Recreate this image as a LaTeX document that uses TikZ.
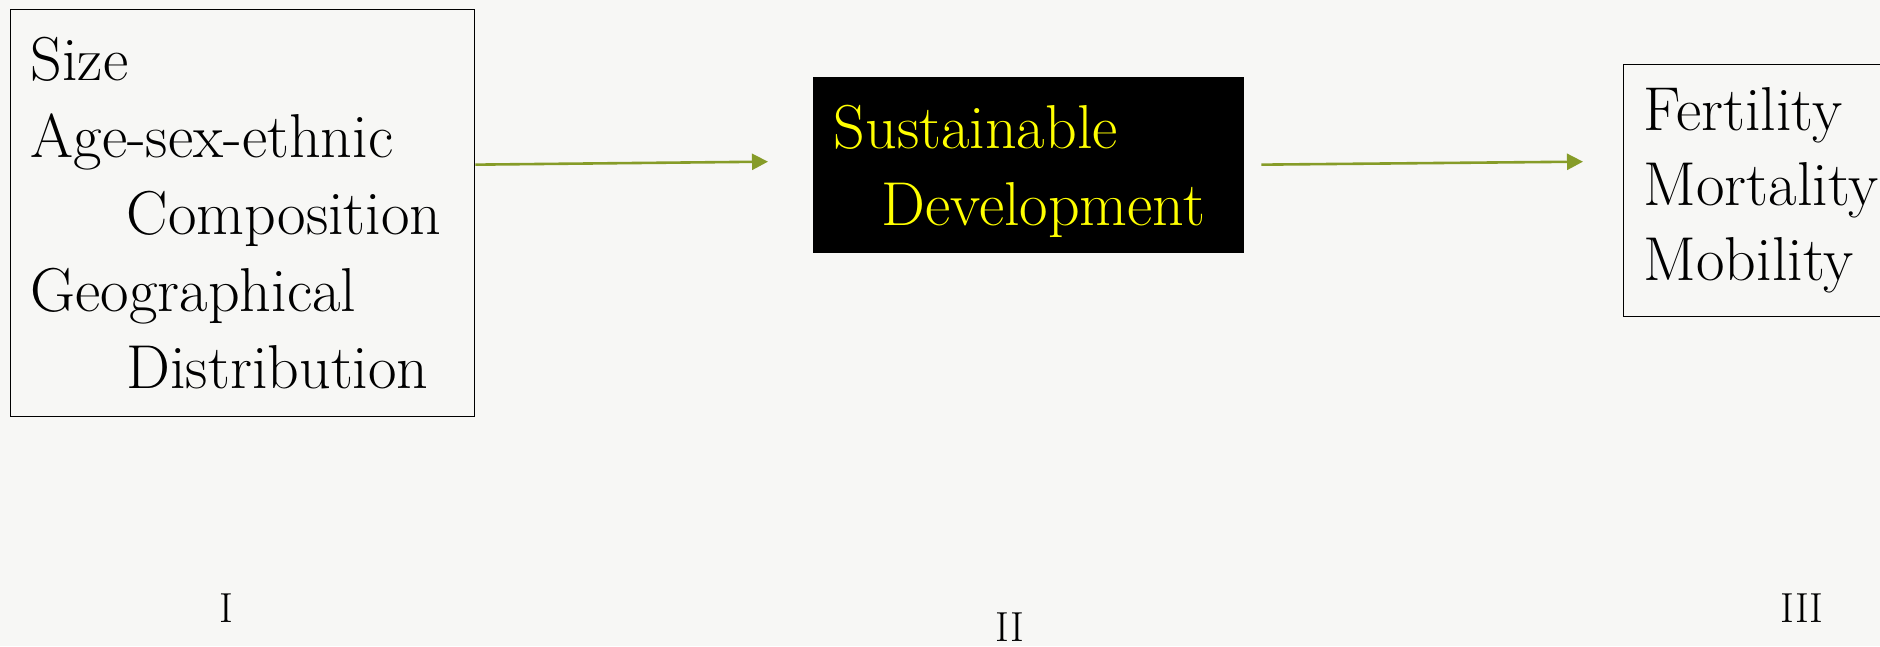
\documentclass[tikz,border=0pt]{standalone}
\usepackage{fontspec}
\usetikzlibrary{arrows.meta}
\definecolor{paper}{RGB}{247,247,245}
\definecolor{arrowgreen}{RGB}{134,156,40}
\definecolor{sdyellow}{RGB}{255,255,0}
\begin{document}
\begin{tikzpicture}[x=1pt,y=-1pt,
	box/.style={draw=black,line width=1.3pt,align=left,inner xsep=20pt,inner ysep=0pt,anchor=north west,font=\fontsize{62}{77}\selectfont},
	flow/.style={draw=arrowgreen,line width=2.6pt,-{Triangle[length=16pt,width=16pt]}},
	roman/.style={font=\fontsize{42}{50}\selectfont}]
	\useasboundingbox (0,0) rectangle (1880,646);
	\fill[paper] (0,0) rectangle (1880,646);
	\node [box,text width=424pt,minimum height=407pt] (pop) at (10,9)
		{Size\\Age-sex-ethnic\\\hspace*{96pt}Composition\\Geographical\\\hspace*{96pt}Distribution};
	\node [box,draw=none,fill=black,text=sdyellow,inner xsep=21pt,text width=389pt,minimum height=176pt] (sd) at (812,76)
		{\rule{0pt}{56pt}Sustainable\\\hspace*{48pt}Development};
	\node [box,text width=237pt,minimum height=252pt,font=\fontsize{62}{75}\selectfont] (proc) at (1623,64)
		{Fertility\\Mortality\\Mobility};
	\draw [flow] ([yshift=48.5pt]pop.east) -- ([xshift=-44pt,yshift=3pt]sd.west);
	\draw [flow] ([xshift=17pt]sd.east) -- ([xshift=-40pt,yshift=29pt]proc.west);
	\node [roman] (one) at (226,608) {I};
	\node [roman] (two) at (1010,627) {II};
	\node [roman] (three) at (1802,608) {III};
\end{tikzpicture}
\end{document}
